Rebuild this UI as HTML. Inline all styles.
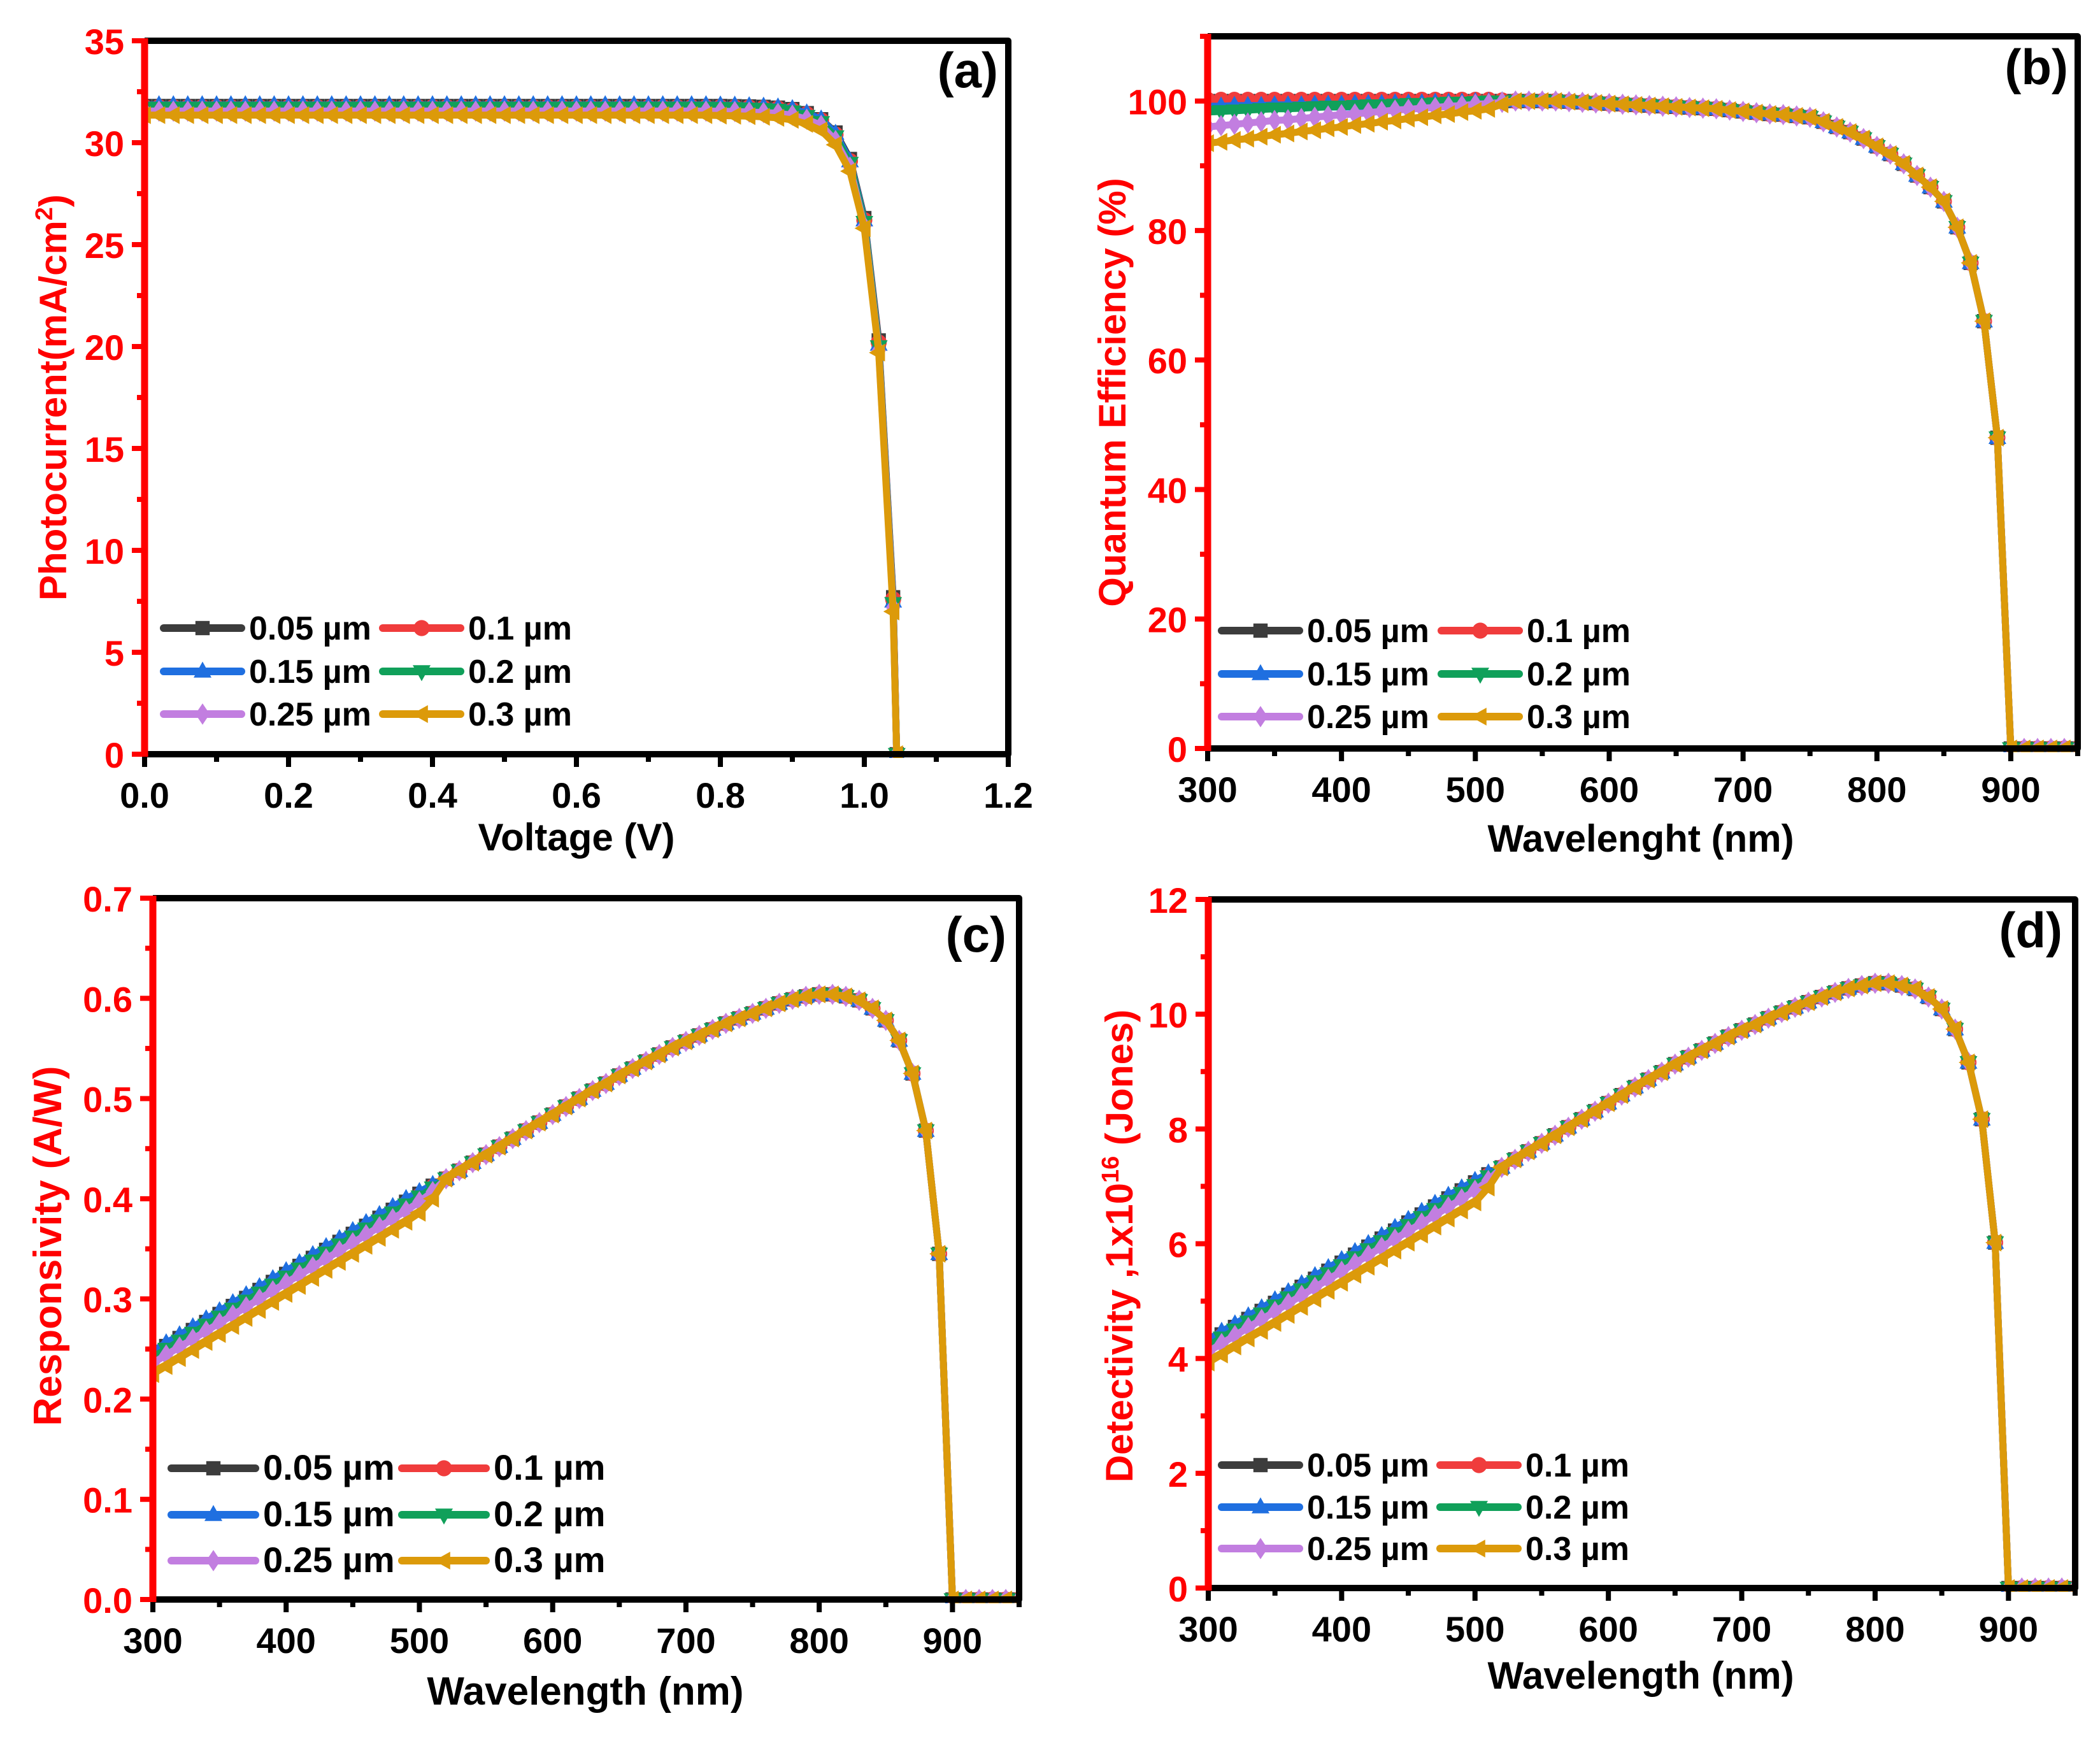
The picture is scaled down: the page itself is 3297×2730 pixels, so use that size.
<!DOCTYPE html>
<html><head><meta charset="utf-8">
<style>
html,body{margin:0;padding:0;background:#fff;}
svg{display:block;}
text{font-family:"Liberation Sans",Arial,sans-serif;font-weight:bold;}
</style></head>
<body>
<svg id="fig" width="3297" height="2730" viewBox="0 0 3297 2730" xmlns="http://www.w3.org/2000/svg"></svg>
<script>
// ---------- data ----------
const seriesNames = ['0.05 µm','0.1 µm','0.15 µm','0.2 µm','0.25 µm','0.3 µm'];
// (a) J-V
const voltageA = [0,0.02,0.04,0.06,0.08,0.1,0.12,0.14,0.16,0.18,0.2,0.22,0.24,0.26,0.28,0.3,0.32,0.34,0.36,0.38,0.4,0.42,0.44,0.46,0.48,0.5,0.52,0.54,0.56,0.58,0.6,0.62,0.64,0.66,0.68,0.7,0.72,0.74,0.76,0.78,0.8,0.82,0.84,0.86,0.88,0.9,0.92,0.94,0.96,0.98,1.0,1.02,1.04,1.045];
const jA_005 = [31.8,31.8,31.8,31.8,31.8,31.8,31.8,31.8,31.8,31.8,31.8,31.8,31.8,31.8,31.8,31.8,31.8,31.8,31.8,31.8,31.8,31.8,31.8,31.8,31.8,31.8,31.8,31.8,31.8,31.8,31.8,31.8,31.8,31.8,31.8,31.8,31.8,31.8,31.8,31.8,31.8,31.79,31.78,31.76,31.72,31.65,31.45,31.15,30.5,29.2,26.3,20.3,7.7,0];
const jA_01  = [31.75,31.75,31.75,31.75,31.75,31.75,31.75,31.75,31.75,31.75,31.75,31.75,31.75,31.75,31.75,31.75,31.75,31.75,31.75,31.75,31.75,31.75,31.75,31.75,31.75,31.75,31.75,31.75,31.75,31.75,31.75,31.75,31.75,31.75,31.75,31.75,31.75,31.75,31.75,31.75,31.75,31.74,31.73,31.71,31.68,31.6,31.4,31.1,30.4,29.1,26.2,20.2,7.6,0];
const jA_015 = [31.85,31.85,31.85,31.85,31.85,31.85,31.85,31.85,31.85,31.85,31.85,31.85,31.85,31.85,31.85,31.85,31.85,31.85,31.85,31.85,31.85,31.85,31.85,31.85,31.85,31.85,31.85,31.85,31.85,31.85,31.85,31.85,31.85,31.85,31.85,31.85,31.85,31.85,31.85,31.85,31.84,31.83,31.8,31.78,31.74,31.66,31.45,31.15,30.45,29.1,26.2,20.1,7.5,0];
const jA_02  = [31.7,31.7,31.7,31.7,31.7,31.7,31.7,31.7,31.7,31.7,31.7,31.7,31.7,31.7,31.7,31.7,31.7,31.7,31.7,31.7,31.7,31.7,31.7,31.7,31.7,31.7,31.7,31.7,31.7,31.7,31.7,31.7,31.7,31.7,31.7,31.7,31.7,31.7,31.7,31.7,31.69,31.68,31.66,31.64,31.6,31.52,31.3,31.0,30.3,29.0,26.1,20.0,7.4,0];
const jA_025 = [31.55,31.55,31.55,31.55,31.55,31.55,31.55,31.55,31.55,31.55,31.55,31.55,31.55,31.55,31.55,31.55,31.55,31.55,31.55,31.55,31.55,31.55,31.55,31.55,31.55,31.55,31.55,31.55,31.55,31.55,31.55,31.55,31.55,31.55,31.55,31.55,31.55,31.55,31.55,31.55,31.54,31.53,31.5,31.48,31.44,31.35,31.15,30.85,30.1,28.8,25.9,19.8,7.2,0];
const jA_03  = [31.35,31.35,31.35,31.35,31.35,31.35,31.35,31.35,31.35,31.35,31.35,31.35,31.35,31.35,31.35,31.35,31.35,31.35,31.35,31.35,31.35,31.35,31.35,31.35,31.35,31.35,31.35,31.35,31.35,31.35,31.35,31.35,31.35,31.35,31.35,31.35,31.35,31.35,31.35,31.35,31.33,31.32,31.3,31.27,31.22,31.12,30.92,30.6,29.9,28.6,25.8,19.7,7.0,0];

// wavelength grid for (b),(c),(d)
const wavelength = [300,310,320,330,340,350,360,370,380,390,400,410,420,430,440,450,460,470,480,490,500,510,520,530,540,550,560,570,580,590,600,610,620,630,640,650,660,670,680,690,700,710,720,730,740,750,760,770,780,790,800,810,820,830,840,850,860,870,880,890,900,910,920,930,940,950];

// (b) QE: per-series head 300..520, shared tail 530..950
const qeHead_005 = [100,100,100,100,100,100,100,100,100,100,100,100,100,100,100,100,100,100,100,100,100,100,100];
const qeHead_01  = [100.2,100.2,100.2,100.2,100.2,100.2,100.2,100.2,100.2,100.2,100.2,100.2,100.2,100.2,100.2,100.2,100.2,100.2,100.2,100.2,100.2,100.2,100.1];
const qeHead_015 = [99.2,99.2,99.3,99.3,99.3,99.4,99.4,99.4,99.5,99.5,99.5,99.6,99.6,99.6,99.7,99.7,99.7,99.8,99.8,99.8,99.9,99.9,100];
const qeHead_02  = [98.3,98.4,98.5,98.6,98.7,98.8,98.8,98.9,99,99.1,99.1,99.2,99.3,99.3,99.4,99.5,99.5,99.6,99.7,99.7,99.8,99.9,99.9];
const qeHead_025 = [96,96.2,96.4,96.6,96.8,97,97.1,97.3,97.5,97.7,97.9,98,98.2,98.4,98.6,98.7,98.9,99,99.2,99.3,99.5,99.6,99.8];
const qeHead_03  = [93.5,93.7,94,94.2,94.5,94.8,95,95.3,95.5,95.8,96,96.3,96.5,96.8,97,97.3,97.5,97.8,98,98.3,98.5,98.8,99.5];
const qeTail = [100,100,100,100,99.9,99.8,99.7,99.6,99.5,99.4,99.3,99.2,99.1,99,98.9,98.8,98.6,98.4,98.2,98,97.9,97.7,97.5,96.8,96,95.2,94.2,93,91.8,90.3,88.5,86.7,84.5,80.5,75,66,48,0,0,0,0,0,0];

// (c) Responsivity: head 300..510, tail 520..950
const rHead_005 = [0.245,0.253,0.261,0.269,0.277,0.285,0.293,0.301,0.309,0.317,0.325,0.333,0.341,0.349,0.357,0.365,0.373,0.381,0.389,0.397,0.405,0.413];
const rHead_01  = [0.243,0.251,0.259,0.267,0.275,0.283,0.291,0.299,0.307,0.315,0.323,0.331,0.339,0.347,0.355,0.363,0.371,0.379,0.387,0.395,0.403,0.412];
const rHead_015 = [0.248,0.256,0.264,0.272,0.28,0.288,0.296,0.304,0.312,0.32,0.328,0.336,0.344,0.352,0.36,0.368,0.376,0.384,0.392,0.4,0.407,0.414];
const rHead_02  = [0.242,0.25,0.258,0.266,0.274,0.282,0.29,0.298,0.306,0.314,0.322,0.33,0.338,0.346,0.354,0.362,0.37,0.378,0.386,0.394,0.402,0.411];
const rHead_025 = [0.236,0.244,0.252,0.26,0.268,0.276,0.284,0.292,0.3,0.308,0.316,0.324,0.332,0.34,0.348,0.356,0.364,0.372,0.38,0.388,0.397,0.407];
const rHead_03  = [0.225,0.233,0.241,0.249,0.257,0.265,0.273,0.281,0.289,0.297,0.305,0.313,0.321,0.329,0.337,0.345,0.353,0.361,0.369,0.377,0.386,0.4];
const rTail = [0.42,0.428,0.436,0.444,0.452,0.46,0.468,0.476,0.484,0.492,0.5,0.508,0.515,0.523,0.53,0.537,0.544,0.551,0.557,0.563,0.569,0.575,0.58,0.585,0.59,0.595,0.599,0.602,0.604,0.604,0.602,0.598,0.59,0.578,0.558,0.525,0.468,0.345,0,0,0,0,0,0];

// (d) Detectivity: head 300..510, tail 520..950
const dHead_005 = [4.28,4.42,4.55,4.69,4.83,4.97,5.11,5.25,5.39,5.53,5.67,5.81,5.95,6.09,6.23,6.37,6.51,6.65,6.79,6.93,7.07,7.21];
const dHead_01  = [4.25,4.39,4.52,4.66,4.8,4.94,5.08,5.22,5.36,5.5,5.64,5.78,5.92,6.06,6.2,6.34,6.48,6.62,6.76,6.9,7.04,7.19];
const dHead_015 = [4.33,4.47,4.6,4.74,4.88,5.02,5.16,5.3,5.44,5.58,5.72,5.86,6,6.14,6.28,6.42,6.56,6.7,6.84,6.97,7.1,7.23];
const dHead_02  = [4.22,4.36,4.5,4.64,4.78,4.92,5.06,5.2,5.34,5.48,5.62,5.76,5.9,6.04,6.18,6.32,6.46,6.6,6.74,6.88,7.02,7.17];
const dHead_025 = [4.12,4.26,4.4,4.54,4.68,4.82,4.96,5.1,5.24,5.38,5.52,5.66,5.8,5.94,6.08,6.22,6.36,6.5,6.64,6.78,6.93,7.1];
const dHead_03  = [3.93,4.07,4.21,4.35,4.48,4.62,4.76,4.9,5.04,5.18,5.32,5.46,5.6,5.74,5.88,6.02,6.16,6.3,6.44,6.58,6.72,6.98];
const dTail = [7.33,7.47,7.61,7.75,7.89,8.03,8.17,8.31,8.45,8.59,8.73,8.86,8.99,9.13,9.25,9.37,9.49,9.61,9.72,9.82,9.93,10.03,10.12,10.21,10.3,10.38,10.45,10.5,10.54,10.54,10.5,10.44,10.3,10.09,9.74,9.16,8.17,6.02,0,0,0,0,0,0];

// tick labels
const ticksA_x = ['0.0','0.2','0.4','0.6','0.8','1.0','1.2'];
const ticksA_y = ['0','5','10','15','20','25','30','35'];
const ticksW_x = ['300','400','500','600','700','800','900'];
const ticksB_y = ['0','20','40','60','80','100'];
const ticksC_y = ['0.0','0.1','0.2','0.3','0.4','0.5','0.6','0.7'];
const ticksD_y = ['0','2','4','6','8','10','12'];

// ---------- drawing ----------
const NS='http://www.w3.org/2000/svg';
const svg=document.getElementById('fig');
const colors=['#3c3c3c','#f03c3c','#1f6fe0','#10a05a','#c27ee0','#dc9a0a'];
const markers=['square','circle','tri-up','tri-down','diamond','tri-left'];
function mk(tag,attrs,parent){const e=document.createElementNS(NS,tag);for(const k in attrs)e.setAttribute(k,attrs[k]);(parent||svg).appendChild(e);return e;}
function markerShape(g,type,x,y,s,col){
  let e;
  if(type==='square'){e=mk('rect',{x:x-s*0.8,y:y-s*0.8,width:s*1.6,height:s*1.6,fill:col},g);}
  else if(type==='circle'){e=mk('circle',{cx:x,cy:y,r:s*0.9,fill:col},g);}
  else{
    let p;
    if(type==='tri-up')p=[[x,y-s*1.1],[x-s,y+s*0.7],[x+s,y+s*0.7]];
    else if(type==='tri-down')p=[[x,y+s*1.1],[x-s,y-s*0.7],[x+s,y-s*0.7]];
    else if(type==='diamond')p=[[x,y-s*1.2],[x+s*0.8,y],[x,y+s*1.2],[x-s*0.8,y]];
    else p=[[x-s*1.1,y],[x+s*0.7,y-s],[x+s*0.7,y+s]];
    e=mk('polygon',{points:p.map(q=>q.join(',')).join(' '),fill:col},g);
  }
  
  
  return e;
}

function panel(cfg){
  const g=mk('g',{});
  
  
  const {L,R,T,B,xmin,xmax,ymin,ymax}=cfg;
  const sx=v=>L+(v-xmin)/(xmax-xmin)*(R-L);
  const sy=v=>B-(v-ymin)/(ymax-ymin)*(B-T);
  const clip='clip-'+cfg.id;
  const cp=mk('clipPath',{id:clip},g);mk('rect',{x:L,y:T,width:R-L,height:B-T+6},cp);
  const sg=mk('g',{'clip-path':'url(#'+clip+')'},g);
  cfg.series.forEach((ys,i)=>{
    const xs=cfg.xs;
    const pts=xs.map((x,j)=>sx(x).toFixed(1)+','+sy(ys[j]).toFixed(1)).join(' ');
    const line=mk('polyline',{points:pts,fill:'none',stroke:colors[i],'stroke-width':11,'stroke-linejoin':'round'},sg);
    
    
    xs.forEach((x,j)=>markerShape(sg,markers[i],sx(x),sy(ys[j]),14,colors[i]));
  });
  const fr=mk('path',{d:`M${L},${B} H${R} V${T} H${L}`,fill:'none',stroke:'#000','stroke-width':10,'stroke-linejoin':'round'},g);
  
  const xl=cfg.xTicks;
  xl.forEach((lab,i)=>{
    const v=parseFloat(lab);const x=sx(v);
    mk('line',{x1:x,y1:B,x2:x,y2:B+20,stroke:'#000','stroke-width':8},g);
    const t=mk('text',{x:x,y:B+84,'font-size':cfg.tickFs,'text-anchor':'middle',fill:'#000'},g);
    t.textContent=lab;
    
    if(i<xl.length-1){const v2=parseFloat(xl[i+1]);const xm=sx((v+v2)/2);mk('line',{x1:xm,y1:B,x2:xm,y2:B+12,stroke:'#000','stroke-width':8},g);}
  });
  if(cfg.extraMinorX){cfg.extraMinorX.forEach(v=>{const xm=sx(v);mk('line',{x1:xm,y1:B,x2:xm,y2:B+12,stroke:'#000','stroke-width':8},g);});}
  const yl=cfg.yTicks;
  yl.forEach((lab,i)=>{
    const v=parseFloat(lab);const y=sy(v);
    mk('line',{x1:L,y1:y,x2:L-20,y2:y,stroke:'#f00','stroke-width':8},g);
    const t=mk('text',{x:L-32,y:y+21,'font-size':cfg.tickFs,'text-anchor':'end',fill:'#f00'},g);
    t.textContent=lab;
    
    if(i<yl.length-1){const v2=parseFloat(yl[i+1]);const ym=sy((v+v2)/2);mk('line',{x1:L,y1:ym,x2:L-12,y2:ym,stroke:'#f00','stroke-width':8},g);}
  });
  if(cfg.extraMinorY){cfg.extraMinorY.forEach(v=>{const ym=sy(v);mk('line',{x1:L,y1:ym,x2:L-12,y2:ym,stroke:'#f00','stroke-width':8},g);});}
  const ya=mk('line',{x1:L,y1:T-4,x2:L,y2:B+4,stroke:'#f00','stroke-width':11},g);
  
  const xt=mk('text',{x:cfg.xTitleX,y:cfg.xTitleY,'font-size':cfg.titleFs,'text-anchor':'middle',fill:'#000'},g);
  xt.textContent=cfg.xTitle;
  const yt=mk('text',{x:0,y:0,'font-size':cfg.titleFs,'text-anchor':'middle',fill:'#f00',transform:`translate(${cfg.yTitleX},${cfg.yTitleY}) rotate(-90)`},g);
  yt.innerHTML=cfg.yTitle;
  const pl=mk('text',{x:cfg.labX,y:cfg.labY,'font-size':78,'text-anchor':'end',fill:'#000'},g);
  pl.textContent=cfg.label;
  const lg=mk('g',{},g);
  const lc=cfg.leg;
  for(let i=0;i<6;i++){
    const col=i%2,row=Math.floor(i/2);
    const x0=col?lc.x2:lc.x1,y0=lc.rows[row];
    const e=mk('g',{},lg);
    mk('line',{x1:x0,y1:y0,x2:x0+lc.len,y2:y0,stroke:colors[i],'stroke-width':12,'stroke-linecap':'round'},e);
    markerShape(e,markers[i],x0+lc.len/2,y0,14,colors[i]);
    const t=mk('text',{x:x0+lc.len+12,y:y0+18,'font-size':lc.fs,fill:'#000'},e);t.textContent=seriesNames[i];
  }
}

const headTail=(h,t)=>h.concat(t);
panel({id:'a',name:'panel-a-photocurrent',L:227,R:1583,T:64,B:1184,xmin:0,xmax:1.2,ymin:0,ymax:35,
  xs:voltageA,series:[jA_005,jA_01,jA_015,jA_02,jA_025,jA_03],
  xTicks:ticksA_x,yTicks:ticksA_y,tickFs:56,titleFs:60,
  xTitle:'Voltage (V)',xTitleX:905,xTitleY:1335,
  yTitle:'Photocurrent(mA/cm<tspan dy="-22" font-size="38">2</tspan><tspan dy="22">)</tspan>',yTitleX:104,yTitleY:624,
  label:'(a)',labX:1567,labY:137,
  leg:{x1:257,x2:601,len:122,rows:[986,1054,1121],fs:52}});
panel({id:'b',name:'panel-b-quantum-efficiency',L:1896,R:3262,T:57,B:1175,xmin:300,xmax:950,ymin:0,ymax:110,
  xs:wavelength,series:[qeHead_005,qeHead_01,qeHead_015,qeHead_02,qeHead_025,qeHead_03].map(h=>headTail(h,qeTail)),
  xTicks:ticksW_x,yTicks:ticksB_y,tickFs:56,titleFs:60,extraMinorX:[950],extraMinorY:[110],
  xTitle:'Wavelenght (nm)',xTitleX:2576,xTitleY:1337,
  yTitle:'Quantum Efficiency (%)',yTitleX:1767,yTitleY:616,
  label:'(b)',labX:3247,labY:132,
  leg:{x1:1918,x2:2263,len:122,rows:[990,1058,1125],fs:52}});
panel({id:'c',name:'panel-c-responsivity',L:240,R:1600,T:1410,B:2511,xmin:300,xmax:950,ymin:0,ymax:0.7,
  xs:wavelength,series:[rHead_005,rHead_01,rHead_015,rHead_02,rHead_025,rHead_03].map(h=>headTail(h,rTail)),
  xTicks:ticksW_x,yTicks:ticksC_y,tickFs:56,titleFs:62,extraMinorX:[950],
  xTitle:'Wavelength (nm)',xTitleX:919,xTitleY:2676,
  yTitle:'Responsivity (A/W)',yTitleX:96,yTitleY:1956,
  label:'(c)',labX:1580,labY:1494,
  leg:{x1:269,x2:631,len:132,rows:[2305,2378,2450],fs:56}});
panel({id:'d',name:'panel-d-detectivity',L:1897,R:3258,T:1412,B:2493,xmin:300,xmax:950,ymin:0,ymax:12,
  xs:wavelength,series:[dHead_005,dHead_01,dHead_015,dHead_02,dHead_025,dHead_03].map(h=>headTail(h,dTail)),
  xTicks:ticksW_x,yTicks:ticksD_y,tickFs:56,titleFs:60,extraMinorX:[950],
  xTitle:'Wavelength (nm)',xTitleX:2576,xTitleY:2651,
  yTitle:'Detectivity ,1x10<tspan dy="-22" font-size="38">16</tspan><tspan dy="22"> (Jones)</tspan>',yTitleX:1778,yTitleY:1956,
  label:'(d)',labX:3238,labY:1487,
  leg:{x1:1918,x2:2261,len:122,rows:[2300,2366,2431],fs:52}});
</script>
</body></html>
